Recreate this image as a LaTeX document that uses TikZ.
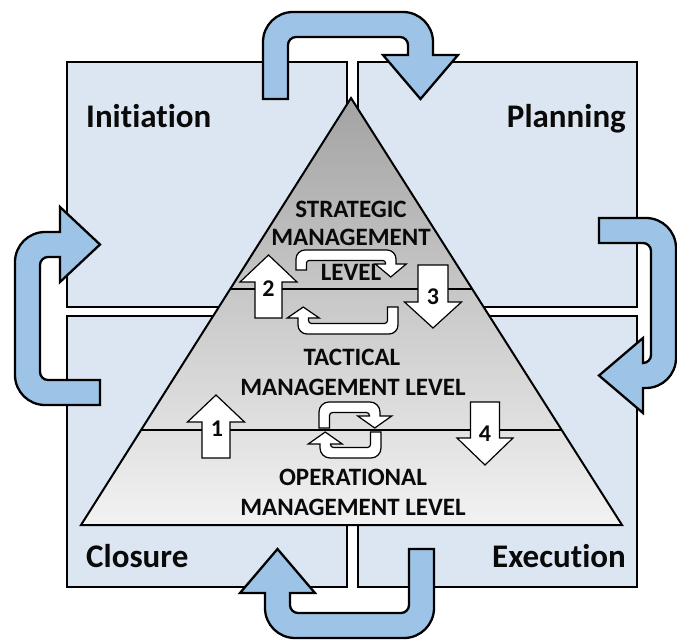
\documentclass[tikz,border=0pt]{standalone}
\usepackage{fontspec}
\setmainfont{Carlito}[Ligatures=NoCommon]
\definecolor{quad}{HTML}{DCE6F2}
\definecolor{arrowblue}{HTML}{9DC3E6}
\definecolor{txt}{HTML}{0A0A0A}
% U-turn block arrow in a local frame: stem end at (0,0), stem going "up" (negative y)
% #1 style, #2 w, #3 H, #4 S, #5 Hh, #6 Ht, #7 hw, #8 R, #9 r
\newcommand\uarrow[9]{%
\draw[#1] (0,0) -- (0,{-(#3)+(#8)})
 .. controls (0,{-(#3)+0.4477*(#8)}) and ({0.4477*(#8)},{-(#3)}) .. (#8,{-(#3)})
 -- ({(#4)-(#8)},{-(#3)})
 .. controls ({(#4)-0.4477*(#8)},{-(#3)}) and (#4,{-(#3)+0.4477*(#8)}) .. (#4,{-(#3)+(#8)})
 -- (#4,{-(#5)}) -- ({(#4)-(#2)/2+(#7)},{-(#5)}) -- ({(#4)-(#2)/2},{-(#6)})
 -- ({(#4)-(#2)/2-(#7)},{-(#5)}) -- ({(#4)-(#2)},{-(#5)})
 -- ({(#4)-(#2)},{-(#3)+(#2)+(#9)})
 .. controls ({(#4)-(#2)},{-(#3)+(#2)+0.4477*(#9)}) and ({(#4)-(#2)-0.4477*(#9)},{-(#3)+(#2)}) .. ({(#4)-(#2)-(#9)},{-(#3)+(#2)})
 -- ({(#2)+(#9)},{-(#3)+(#2)})
 .. controls ({(#2)+0.4477*(#9)},{-(#3)+(#2)}) and (#2,{-(#3)+(#2)+0.4477*(#9)}) .. (#2,{-(#3)+(#2)+(#9)})
 -- (#2,0) -- cycle;}
% straight vertical block arrow: #1 cx, #2 shaft half width, #3 shaft end y, #4 head base y, #5 head half width, #6 tip y
\newcommand\vblock[6]{%
\draw[smallarrow] ({(#1)-(#2)},#3) -- ({(#1)-(#2)},#4) -- ({(#1)-(#5)},#4) -- (#1,#6)
 -- ({(#1)+(#5)},#4) -- ({(#1)+(#2)},#4) -- ({(#1)+(#2)},#3) -- cycle;}
\begin{document}
\begin{tikzpicture}[x=1pt,y=-1pt,
 quadbox/.style={draw=black, line width=2.4pt, fill=quad},
 bigarrow/.style={draw=black, line width=2.3pt, fill=arrowblue, line join=miter},
 smallarrow/.style={draw=black, line width=1.2pt, fill=white, line join=miter},
 divider/.style={draw=black, line width=1.5pt},
 quadlabel/.style={font=\fontsize{33}{40}\selectfont\bfseries, text=txt, inner sep=0pt},
 levellabel/.style={font=\fontsize{25}{30}\selectfont\bfseries, text=txt, inner sep=0pt, anchor=base},
 numlabel/.style={font=\fontsize{24}{28}\selectfont\bfseries, text=txt, inner sep=0pt},
]
\useasboundingbox (0,0) rectangle (677,640);
\fill[white] (0,0) rectangle (677,640);
% quadrants
\draw[quadbox] (67,62) rectangle (347,307);
\draw[quadbox] (358,62) rectangle (637,307);
\draw[quadbox] (67,316) rectangle (347,587);
\draw[quadbox] (358,316) rectangle (637,587);
% big cycle arrows
\begin{scope}[shift={(263,99)}]
\uarrow{bigarrow}{25}{87}{170}{44}{0}{37.5}{30}{8}
\end{scope}
\begin{scope}[shift={(599,218)}, rotate=-90]
\uarrow{bigarrow}{25}{77}{170}{44}{0}{37.5}{30}{8}
\end{scope}
\begin{scope}[shift={(434,549)}, rotate=180]
\uarrow{bigarrow}{25}{89}{169}{44}{0}{37.5}{30}{8}
\end{scope}
\begin{scope}[shift={(100,405)}, rotate=90]
\uarrow{bigarrow}{25}{85}{173}{40}{0}{37.5}{30}{8}
\end{scope}
% pyramid
\shade[top color=black!36, middle color=black!14, bottom color=black!5] (351,98) -- (622,525) -- (81,525) -- cycle;
\draw[line width=2pt, line join=miter] (351,98) -- (622,525) -- (81,525) -- cycle;
\draw[divider] (230,289) -- (472,289);
\draw[divider] (140.7,430) -- (561.3,430);
% quadrant labels
\node[quadlabel, anchor=base west] (init) at (86,127) {Initiation};
\node[quadlabel, anchor=base east] (plan) at (626,127) {Planning};
\node[quadlabel, anchor=base west] (clos) at (86,567) {Closure};
\node[quadlabel, anchor=base east] (exec) at (626,567) {Execution};
% level labels
\node[levellabel] (s1) at (351,217) {STRATEGIC};
\node[levellabel] (s2) at (351,245) {MANAGEMENT};
\node[levellabel] (s3) at (351,280) {LEVEL};
\node[levellabel] (t1) at (352,365) {TACTICAL};
\node[levellabel] (t2) at (353,395) {MANAGEMENT LEVEL};
\node[levellabel] (o1) at (353,485) {OPERATIONAL};
\node[levellabel] (o2) at (353,515) {MANAGEMENT LEVEL};
% small cycle arrows
\begin{scope}[shift={(296,270)}]
\uarrow{smallarrow}{10.5}{20}{100}{6}{-7}{15.5}{9}{2.5}
\end{scope}
\begin{scope}[shift={(398,307)}, rotate=180]
\uarrow{smallarrow}{10.5}{27}{100}{11}{0}{16}{9}{3}
\end{scope}
\begin{scope}[shift={(319,428)}]
\uarrow{smallarrow}{10.5}{26}{61}{12}{0}{17}{10}{3}
\end{scope}
\begin{scope}[shift={(381,432)}, rotate=180]
\uarrow{smallarrow}{10.5}{26}{61}{12}{0}{17}{10}{3}
\end{scope}
% numbered vertical arrows
\vblock{268.5}{13.5}{318}{282}{28.5}{255}
\vblock{433}{15}{265}{302}{28.5}{328}
\vblock{216}{14}{458}{422}{28.5}{395}
\vblock{485}{14.5}{402}{438}{28}{465}
\node[numlabel] (n2) at (268.5,289) {2};
\node[numlabel] (n3) at (433,297) {3};
\node[numlabel] (n1) at (217,429) {1};
\node[numlabel] (n4) at (485,434) {4};
\end{tikzpicture}
\end{document}
